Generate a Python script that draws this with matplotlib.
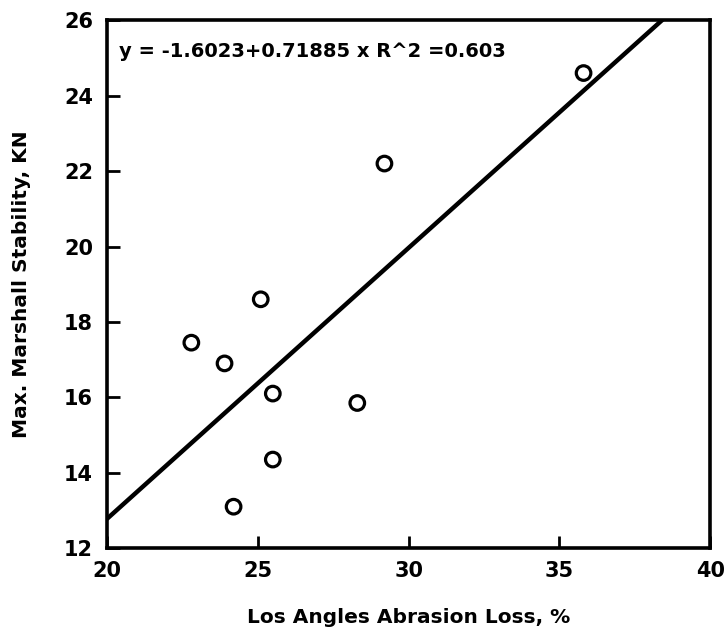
import numpy as np
import matplotlib
matplotlib.use("Agg")
import matplotlib.pyplot as plt

# Los Angeles abrasion loss (%) vs. maximum Marshall stability (kN)
abrasion_loss = [22.8, 23.9, 25.1, 25.5, 25.5, 24.2, 28.3, 29.2, 35.8]
marshall_stability = [17.45, 16.9, 18.6, 16.1, 14.35, 13.1, 15.85, 22.2, 24.6]

# Linear fit reported on the chart
intercept = -1.6023
slope = 0.71885
r_squared = 0.603

x_ticks = [20, 25, 30, 35, 40]
y_ticks = [12, 14, 16, 18, 20, 22, 24, 26]

plt.rcParams['font.family'] = ['DejaVu Sans']
plt.rcParams['font.weight'] = 'bold'

fig = plt.figure(figsize=(7.27, 6.33), dpi=100)
ax = fig.add_axes([0.147, 0.134, 0.830, 0.834])

ax.scatter(abrasion_loss, marshall_stability, s=110, facecolors='none',
           edgecolors='black', linewidths=2.3, zorder=3)

fit_x = np.array([20, 40])
ax.plot(fit_x, intercept + slope * fit_x, color='black', linewidth=3.2,
        solid_capstyle='butt', zorder=2)

ax.set_xlim(20, 40)
ax.set_ylim(12, 26)
ax.set_xticks(x_ticks)
ax.set_yticks(y_ticks)
ax.tick_params(direction='in', length=9, width=2, labelsize=15, pad=9)
ax.tick_params(axis='y', pad=10)
for lbl in ax.get_xticklabels() + ax.get_yticklabels():
    lbl.set_fontweight('bold')
for sp in ax.spines.values():
    sp.set_linewidth(2.6)

ax.text(0.02, 0.958, f"y = {intercept:.4f}+{slope:.5f} x R^2 ={r_squared:.3f}",
        transform=ax.transAxes, ha='left', va='top', fontsize=14,
        fontweight='bold')

ax.set_xlabel("Los Angles Abrasion Loss, %", fontsize=14.5, fontweight='bold',
              labelpad=20)
ax.set_ylabel("Max. Marshall Stability, KN", fontsize=14.5, fontweight='bold',
              labelpad=24)

fig.savefig("out.png", dpi=100, facecolor='white')
